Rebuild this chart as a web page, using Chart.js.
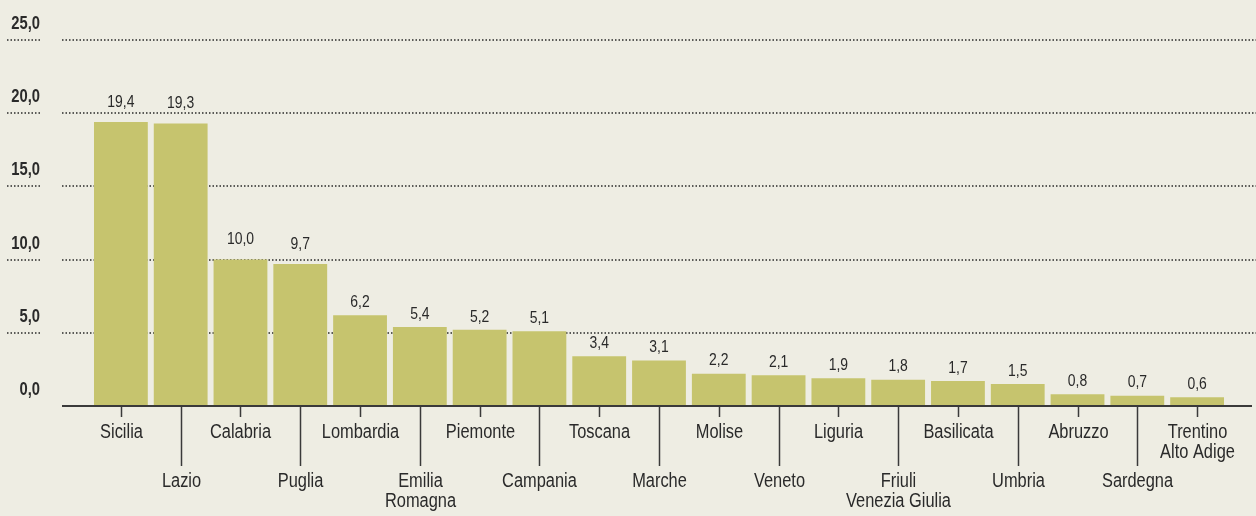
<!DOCTYPE html>
<html>
<head>
<meta charset="utf-8">
<script src="https://cdn.jsdelivr.net/npm/chart.js@4"></script>
<style>
  html, body { margin: 0; padding: 0; background: #eeede3; }
  #wrap { width: 1256px; height: 516px; position: relative; }
</style>
</head>
<body>
<div id="wrap"><canvas id="chart"></canvas></div>
<script>
const categories = ['Sicilia', 'Lazio', 'Calabria', 'Puglia', 'Lombardia', ['Emilia', 'Romagna'], 'Piemonte', 'Campania',
    'Toscana', 'Marche', 'Molise', 'Veneto', 'Liguria', ['Friuli', 'Venezia Giulia'], 'Basilicata', 'Umbria',
    'Abruzzo', 'Sardegna', ['Trentino', 'Alto Adige']];
const values = [19.4, 19.3, 10.0, 9.7, 6.2, 5.4, 5.2, 5.1, 3.4, 3.1, 2.2, 2.1, 1.9, 1.8, 1.7, 1.5, 0.8, 0.7, 0.6];
const yTicks = [0, 5, 10, 15, 20, 25];

const FONT = "'Liberation Sans', Arial, sans-serif";
const NARROW = 0.82; // squeeze Arial metrics into a condensed look
const ink = '#2a2a2a';
const fmt = v => v.toFixed(1).replace('.', ',');

// text drawn with horizontal squeeze
function narrowText(ctx, text, x, y, align) {
    ctx.save();
    ctx.translate(x, y);
    ctx.scale(NARROW, 1);
    ctx.textAlign = align;
    ctx.fillText(text, 0, 0);
    ctx.restore();
}

// dotted grid (behind bars), baseline, alternating ticks, labels and values
const decoPlugin = {
    id: 'deco',
    beforeDatasetsDraw(chart) {
        const ctx = chart.ctx;
        const y = chart.scales.y;
        ctx.save();
        ctx.strokeStyle = ink;
        ctx.lineWidth = 1.5;
        ctx.setLineDash([1.5, 2]);
        yTicks.forEach(v => {
            if (v === 0) return;
            const py = Math.round(y.getPixelForValue(v));
            ctx.beginPath();
            ctx.moveTo(7, py); ctx.lineTo(41, py);
            ctx.moveTo(62, py); ctx.lineTo(1256, py);
            ctx.stroke();
        });
        ctx.restore();
    },
    afterDatasetsDraw(chart) {
        const ctx = chart.ctx;
        const x = chart.scales.x;
        const y = chart.scales.y;
        const y0 = Math.round(y.getPixelForValue(0));
        ctx.save();
        ctx.strokeStyle = '#3a3a3a';
        ctx.lineWidth = 2;
        ctx.beginPath();
        ctx.moveTo(62, y0); ctx.lineTo(1252, y0);
        ctx.stroke();

        ctx.fillStyle = ink;
        ctx.textBaseline = 'middle';

        // y labels
        ctx.font = 'bold 18px ' + FONT;
        yTicks.forEach(v => {
            narrowText(ctx, fmt(v), 40, y.getPixelForValue(v) - 16, 'right');
        });

        // x ticks + labels
        ctx.lineWidth = 1.5;
        ctx.font = '20px ' + FONT;
        categories.forEach((c, i) => {
            const px = Math.round(x.getPixelForValue(i)) + 0.5;
            const odd = i % 2 === 1;
            ctx.beginPath();
            ctx.moveTo(px, y0);
            ctx.lineTo(px, y0 + (odd ? 60 : 11));
            ctx.stroke();
            const lines = Array.isArray(c) ? c : [c];
            lines.forEach((t, k) => {
                narrowText(ctx, t, px, y0 + (odd ? 75 : 26) + k * 20, 'center');
            });
        });

        // value labels
        ctx.font = '17px ' + FONT;
        chart.getDatasetMeta(0).data.forEach((bar, i) => {
            const gap = values[i] >= 9 ? 20 : 13;
            narrowText(ctx, fmt(values[i]), bar.x, bar.y - gap, 'center');
        });
        ctx.restore();
    }
};

new Chart(document.getElementById('chart'), {
    type: 'bar',
    data: {
        labels: categories,
        datasets: [{
            data: values,
            backgroundColor: '#c6c46e',
            barPercentage: 0.9,
            categoryPercentage: 1.0
        }]
    },
    options: {
        responsive: true,
        maintainAspectRatio: false,
        animation: false,
        layout: { padding: { left: 91, right: 29, top: 40, bottom: 110 } },
        plugins: { legend: { display: false }, tooltip: { enabled: false } },
        scales: {
            x: { display: false },
            y: { display: false, min: 0, max: 25 }
        }
    },
    plugins: [decoPlugin]
});
</script>
</body>
</html>
